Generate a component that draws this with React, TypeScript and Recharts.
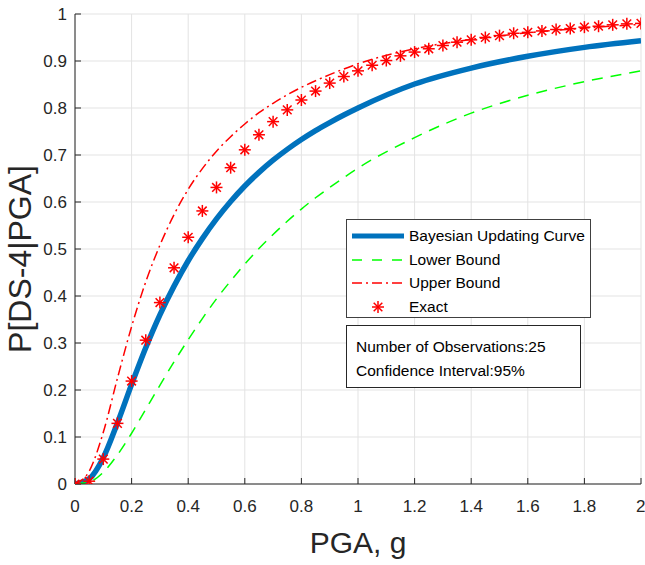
import React from 'react';
import { ComposedChart, Line, Scatter, XAxis, YAxis, CartesianGrid, Label } from 'recharts';

const curveX = [0, 0.05, 0.1, 0.15, 0.2, 0.25, 0.3, 0.35, 0.4, 0.45, 0.5, 0.55, 0.6, 0.65, 0.7, 0.75, 0.8, 0.85, 0.9, 0.95, 1.0, 1.2, 1.4, 1.6, 1.8, 2.0];
const bayesian = [0, 0.011, 0.056, 0.13, 0.212, 0.29, 0.36, 0.421, 0.475, 0.522, 0.564, 0.601, 0.634, 0.663, 0.689, 0.712, 0.733, 0.752, 0.769, 0.785, 0.8, 0.851, 0.885, 0.91, 0.929, 0.943];
const lowerBound = [0, 0.004, 0.025, 0.062, 0.108, 0.159, 0.21, 0.26, 0.307, 0.352, 0.394, 0.432, 0.468, 0.501, 0.531, 0.559, 0.585, 0.609, 0.631, 0.652, 0.672, 0.737, 0.789, 0.827, 0.856, 0.879];
const upperBound = [0, 0.027, 0.11, 0.225, 0.335, 0.43, 0.508, 0.573, 0.627, 0.671, 0.708, 0.739, 0.766, 0.79, 0.81, 0.828, 0.844, 0.858, 0.871, 0.883, 0.894, 0.926, 0.946, 0.96, 0.97, 0.978];

const exactX = [0, 0.05, 0.1, 0.15, 0.2, 0.25, 0.3, 0.35, 0.4, 0.45, 0.5, 0.55, 0.6, 0.65, 0.7, 0.75, 0.8, 0.85, 0.9, 0.95, 1.0,
  1.05, 1.1, 1.15, 1.2, 1.25, 1.3, 1.35, 1.4, 1.45, 1.5, 1.55, 1.6, 1.65, 1.7, 1.75, 1.8, 1.85, 1.9, 1.95, 2.0];
const exactY = [0, 0.006, 0.053, 0.129, 0.219, 0.306, 0.386, 0.46, 0.525, 0.581, 0.631, 0.673, 0.711, 0.743, 0.771, 0.796, 0.817, 0.836, 0.853, 0.867, 0.879,
  0.891, 0.901, 0.911, 0.919, 0.926, 0.933, 0.94, 0.945, 0.95, 0.954, 0.959, 0.961, 0.964, 0.967, 0.969, 0.972, 0.974, 0.977, 0.979, 0.98];

const xTicks = [0, 0.2, 0.4, 0.6, 0.8, 1, 1.2, 1.4, 1.6, 1.8, 2];
const yTicks = [0, 0.1, 0.2, 0.3, 0.4, 0.5, 0.6, 0.7, 0.8, 0.9, 1];

const seriesNames = ['Bayesian Updating Curve', 'Lower Bound', 'Upper Bound', 'Exact'];
const infoLines = ['Number of Observations:25', 'Confidence Interval:95%'];

const bayesData = curveX.map((x, i) => ({ x, y: bayesian[i] }));
const lowerData = curveX.map((x, i) => ({ x, y: lowerBound[i] }));
const upperData = curveX.map((x, i) => ({ x, y: upperBound[i] }));
const exactData = exactX.map((x, i) => ({ x, y: exactY[i] }));

const FONT = '"Liberation Sans", Arial, Helvetica, sans-serif';
const AX = '#262626';
const BLUE = '#0072BD';
const GREEN = '#00FF00';
const RED = '#FF0000';

const fmt = (v: number) => String(Number(v.toFixed(1)));

const Star = (props: any) => {
  const { cx, cy } = props;
  if (cx == null || cy == null) return null;
  const r = 6;
  const d = r * 0.72;
  return (
    <g stroke={RED} strokeWidth={1.5} fill="none">
      <line x1={cx - r} y1={cy} x2={cx + r} y2={cy} />
      <line x1={cx} y1={cy - r} x2={cx} y2={cy + r} />
      <line x1={cx - d} y1={cy - d} x2={cx + d} y2={cy + d} />
      <line x1={cx - d} y1={cy + d} x2={cx + d} y2={cy - d} />
    </g>
  );
};

const LegendSample = ({ kind }: { kind: number }) => {
  return (
    <svg width={54} height={14} style={{ display: 'block' }}>
      {kind === 0 && <line x1={1} y1={7} x2={53} y2={7} stroke={BLUE} strokeWidth={5} />}
      {kind === 1 && <line x1={1} y1={7} x2={53} y2={7} stroke={GREEN} strokeWidth={1.5} strokeDasharray="10 10" />}
      {kind === 2 && <line x1={1} y1={7} x2={53} y2={7} stroke={RED} strokeWidth={1.5} strokeDasharray="10 4 2 4" />}
      {kind === 3 && <Star cx={27} cy={7} />}
    </svg>
  );
};

export default function App() {
  return (
    <div style={{ position: 'absolute', left: 0, top: 0, width: 645, height: 565, background: '#fff', fontFamily: FONT }}>
      <ComposedChart width={645} height={565} margin={{ top: 14, right: 4, left: 10, bottom: 41 }}>
        <CartesianGrid stroke="#e3e3e3" strokeWidth={1} />
        <XAxis
          dataKey="x"
          type="number"
          domain={[0, 2]}
          ticks={xTicks}
          tickFormatter={fmt}
          height={40}
          tickSize={-6}
          tickMargin={22}
          axisLine={{ stroke: AX, strokeWidth: 1 }}
          tickLine={{ stroke: AX }}
          tick={{ fontSize: 17, fill: AX, fontFamily: FONT }}
          allowDataOverflow
        >
          <Label
            content={(p: any) => {
              const vb = p.viewBox || {};
              return (
                <text x={vb.x + vb.width / 2} y={vb.y + 69} textAnchor="middle" fontSize={30} fill={AX} fontFamily={FONT}>
                  PGA, g
                </text>
              );
            }}
          />
        </XAxis>
        <YAxis
          type="number"
          domain={[0, 1]}
          ticks={yTicks}
          tickFormatter={fmt}
          width={65}
          tickSize={-6}
          tickMargin={14}
          axisLine={{ stroke: AX, strokeWidth: 1 }}
          tickLine={{ stroke: AX }}
          tick={{ fontSize: 17, fill: AX, fontFamily: FONT }}
          allowDataOverflow
        >
          <Label
            content={(p: any) => {
              const vb = p.viewBox || {};
              const x = vb.x + 21;
              const y = vb.y + vb.height / 2 + 10;
              return (
                <text x={x} y={y} transform={`rotate(-90, ${x}, ${y})`} textAnchor="middle" fontSize={32} fill={AX} fontFamily={FONT}>
                  P[DS-4|PGA]
                </text>
              );
            }}
          />
        </YAxis>
        <Line data={bayesData} dataKey="y" type="monotone" stroke={BLUE} strokeWidth={5.5} dot={false} isAnimationActive={false} name={seriesNames[0]} />
        <Line data={lowerData} dataKey="y" type="monotone" stroke={GREEN} strokeWidth={1.5} strokeDasharray="11 8" dot={false} isAnimationActive={false} name={seriesNames[1]} />
        <Line data={upperData} dataKey="y" type="monotone" stroke={RED} strokeWidth={1.5} strokeDasharray="10 4 2 4" dot={false} isAnimationActive={false} name={seriesNames[2]} />
        <Scatter data={exactData} dataKey="y" shape={<Star />} isAnimationActive={false} name={seriesNames[3]} />
      </ComposedChart>

      <div style={{ position: 'absolute', left: 346, top: 219, width: 243, height: 97, border: '1px solid #404040', background: '#fff', boxSizing: 'content-box' }}>
        {seriesNames.map((n, i) => (
          <div key={n} style={{ position: 'absolute', left: 4, top: 8 + i * 23.5, height: 16, display: 'flex', alignItems: 'center' }}>
            <LegendSample kind={i} />
            <span style={{ marginLeft: 4, fontSize: 15.5, color: '#000', whiteSpace: 'nowrap', lineHeight: '16px' }}>{n}</span>
          </div>
        ))}
      </div>

      <div style={{ position: 'absolute', left: 346, top: 325, width: 233, height: 61, border: '1px solid #262626', background: '#fff' }}>
        {infoLines.map((t, i) => (
          <div key={t} style={{ position: 'absolute', left: 9, top: 12 + i * 23.6, fontSize: 15.5, color: '#000', whiteSpace: 'nowrap', lineHeight: '17px' }}>{t}</div>
        ))}
      </div>
    </div>
  );
}
